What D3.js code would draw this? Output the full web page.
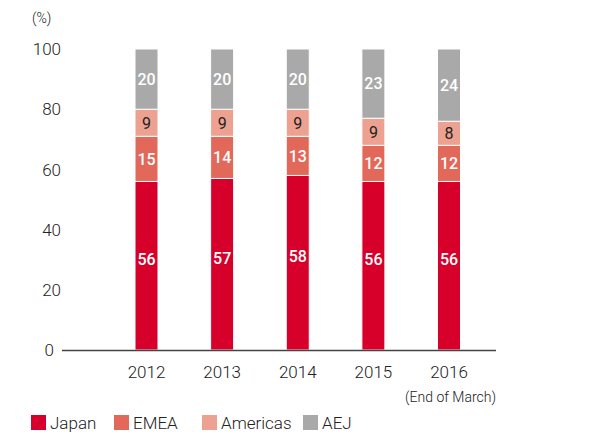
<!DOCTYPE html>
<html>
<head>
<meta charset="utf-8">
<script src="https://cdn.jsdelivr.net/npm/d3@7"></script>
<style>
  body { margin: 0; background: #fff; }
  text { font-family: Roboto, "Liberation Sans", sans-serif; }
</style>
</head>
<body>
<script>
// data
let years = ['2012', '2013', '2014', '2015', '2016'];
let japan = [56, 57, 58, 56, 56];
let emea = [15, 14, 13, 12, 12];
let americas = [9, 9, 9, 9, 8];
let aej = [20, 20, 20, 23, 24];
let seriesNames = ['Japan', 'EMEA', 'Americas', 'AEJ'];
let yTicks = [0, 20, 40, 60, 80, 100];

let colors = ['#d7002b', '#e2685a', '#eda190', '#a9a9a9'];
let labelColors = ['#fff', '#fff', '#222', '#fff'];

let width = 592, height = 434;
let barWidth = 23;

let rows = years.map(function(y, i) {
  return { year: y, Japan: japan[i], EMEA: emea[i], Americas: americas[i], AEJ: aej[i] };
});

let svg = d3.select('body').append('svg')
    .attr('width', width)
    .attr('height', height);

let x = d3.scalePoint() // bar centers
    .domain(years)
    .range([146.5, 449]);

let y = d3.scaleLinear()
    .domain([0, 100])
    .range([350, 49]);

let stack = d3.stack().keys(seriesNames);
let series = stack(rows);

// y axis labels
svg.append('g')
  .selectAll('text')
  .data(yTicks)
  .enter().append('text')
    .attr('x', function(d) { return d === 0 ? 54 : 61; })
    .attr('y', function(d) { return y(d); })
    .attr('dy', '0.36em')
    .attr('text-anchor', 'end')
    .style('font-size', '17px')
    .style('font-weight', 300)
    .style('fill', '#222')
    .text(function(d) { return d; });

svg.append('text')
    .attr('x', 32)
    .attr('y', 23)
    .style('font-size', '14px')
    .style('font-weight', 300)
    .style('fill', '#222')
    .text('(%)');

// bars
let groups = svg.selectAll('.series')
    .data(series)
  .enter().append('g')
    .attr('class', 'series')
    .style('fill', function(d, i) { return colors[i]; });

groups.selectAll('rect')
    .data(function(d) { return d; })
  .enter().append('rect')
    .attr('x', function(d) { return x(d.data.year) - barWidth / 2; })
    .attr('y', function(d) { return y(d[1]); })
    .attr('width', barWidth)
    .attr('height', function(d) { return y(d[0]) - y(d[1]); })
    .style('stroke', '#fff')
    .style('stroke-width', 1);

// segment labels
series.forEach(function(s, i) {
  svg.append('g')
    .selectAll('text')
    .data(s)
    .enter().append('text')
      .attr('x', function(d) { return x(d.data.year); })
      .attr('y', function(d) { return (y(d[0]) + y(d[1])) / 2 - (i === 0 ? 6 : 0); })
      .attr('dy', '0.36em')
      .attr('text-anchor', 'middle')
      .style('font-size', '16px')
      .style('font-weight', i === 2 ? 400 : 500)
      .style('fill', labelColors[i])
      .text(function(d) { return d[1] - d[0]; });
});

// baseline
svg.append('line')
    .attr('x1', 62)
    .attr('x2', 496)
    .attr('y1', y(0) + 0.5)
    .attr('y2', y(0) + 0.5)
    .style('stroke', '#444')
    .style('stroke-width', 1.5);

// x labels
svg.append('g')
  .selectAll('text')
  .data(years)
  .enter().append('text')
    .attr('x', function(d) { return x(d); })
    .attr('y', 372)
    .attr('dy', '0.36em')
    .attr('text-anchor', 'middle')
    .style('font-size', '17px')
    .style('font-weight', 300)
    .style('fill', '#222')
    .text(function(d) { return d; });

svg.append('text')
    .attr('x', 496)
    .attr('y', 397)
    .attr('dy', '0.36em')
    .attr('text-anchor', 'end')
    .style('font-size', '14px')
    .style('font-weight', 300)
    .style('fill', '#222')
    .text('(End of March)');

// legend
let legendX = [31, 114, 202, 303];
let legend = svg.selectAll('.legend')
    .data(seriesNames)
  .enter().append('g')
    .attr('class', 'legend')
    .attr('transform', function(d, i) { return 'translate(' + legendX[i] + ',415)'; });

legend.append('rect')
    .attr('width', 15)
    .attr('height', 15)
    .style('fill', function(d, i) { return colors[i]; });

legend.append('text')
    .attr('x', 19)
    .attr('y', 7.5)
    .attr('dy', '0.36em')
    .style('font-size', '17px')
    .style('font-weight', 300)
    .style('fill', '#222')
    .text(function(d) { return d; });
</script>
</body>
</html>
